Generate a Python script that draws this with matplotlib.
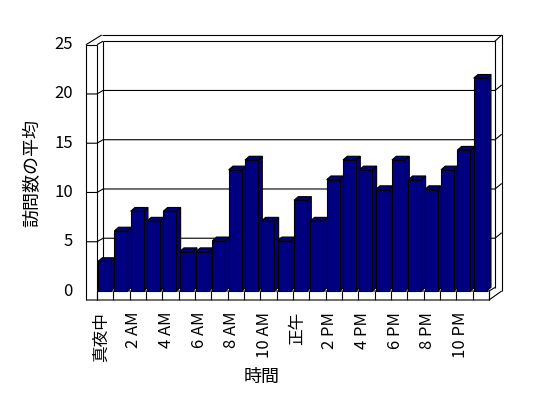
import matplotlib
matplotlib.use("Agg")
import matplotlib.pyplot as plt
from matplotlib.patches import Polygon

plt.rcParams["font.family"] = ["Noto Sans CJK JP", "DejaVu Sans"]

# average visits per hour (24 categories, midnight .. 11 PM)
avg_visits = [3.0, 6.1, 8.1, 7.1, 8.1, 4.0, 4.0, 5.1, 12.3, 13.3, 7.1, 5.1,
              9.2, 7.1, 11.3, 13.3, 12.3, 10.3, 13.3, 11.3, 10.3, 12.3, 14.3, 21.6]
hour_labels = ["真夜中", "2 AM", "4 AM", "6 AM", "8 AM", "10 AM",
               "正午", "2 PM", "4 PM", "6 PM", "8 PM", "10 PM"]
y_ticks = [0, 5, 10, 15, 20, 25]
x_title = "時間"
y_title = "訪問数の平均"

BAR_COLOR = "#000080"
LW = 0.8
W, H = 548, 398

# front plane of the plot area in pixels
left, right, top, bottom = 97, 489, 44.7, 291

fig = plt.figure(figsize=(W / 100, H / 100), dpi=100)
ax = fig.add_axes([left / W, 1 - bottom / H, (right - left) / W, (bottom - top) / H])
n = len(avg_visits)
ymax = y_ticks[-1]
ax.set_xlim(0, n)
ax.set_ylim(0, ymax)
ax.axis("off")

sx = n / (right - left)
sy = ymax / (bottom - top)


def px(dx, dy):
    # pixel offset (screen y pointing down) -> data offset
    return dx * sx, -dy * sy


def line(xs, ys, z=1):
    ax.plot(xs, ys, color="black", lw=LW, clip_on=False, zorder=z,
            solid_joinstyle="miter", solid_capstyle="butt")


wall_dx, _ = px(-11, 0)          # left wall thickness
_, floor_dy = px(0, 9)           # floor thickness (negative)
in_dx, in_dy = px(6, -3.5)       # back wall, front face
out_dx, out_dy = px(12.7, -9.7)  # back wall, back face
lo_dx, _ = px(4.7, 0)            # left wall top back corner
_, side_dy = px(0, -9)

# left wall
line([wall_dx, wall_dx, 0], [floor_dy, ymax, ymax])
line([0, 0], [floor_dy, ymax])
line([wall_dx, lo_dx], [ymax, ymax + out_dy])
line([0, in_dx], [ymax, ymax + in_dy])
line([in_dx, in_dx], [in_dy, ymax + in_dy])

# back wall
line([lo_dx, n + out_dx, n + out_dx], [ymax + out_dy, ymax + out_dy, 0])
line([in_dx, n + in_dx, n + in_dx], [ymax + in_dy, ymax + in_dy, in_dy])
line([n + in_dx, n + out_dx], [ymax + in_dy, ymax + out_dy])

# floor
line([wall_dx, n, n + out_dx], [floor_dy, floor_dy, 0])
line([n, n], [0, floor_dy])
line([0, n, n + in_dx], [0, 0, in_dy])
for i in range(n + 1):
    line([i, i], [0, floor_dy])

# gridlines on back wall and ticks on left wall
for v in y_ticks[1:-1]:
    line([wall_dx, 0, in_dx, n + in_dx, n + out_dx],
         [v, v, v + in_dy, v + in_dy, v + side_dy])

# bars
off, _ = px(1, 0)
bw, _ = px(13, 0)
ddx, ddy = px(4.3, -3.7)
for i, v in enumerate(avg_visits):
    x0 = i + off
    z = 3 + i
    front = [(x0, 0), (x0 + bw, 0), (x0 + bw, v), (x0, v)]
    side = [(x0 + bw, 0), (x0 + bw + ddx, ddy), (x0 + bw + ddx, v + ddy), (x0 + bw, v)]
    topf = [(x0, v), (x0 + bw, v), (x0 + bw + ddx, v + ddy), (x0 + ddx, v + ddy)]
    for pts in (side, topf, front):
        ax.add_patch(Polygon(pts, closed=True, facecolor=BAR_COLOR, edgecolor="black",
                             lw=LW, joinstyle="miter", clip_on=False, zorder=z))

# tick labels
lab_dx, _ = px(-4, 0)
_, lab_y = px(0, 21)
for k, lab in enumerate(hour_labels):
    ax.text(2 * k + 0.5 + lab_dx, lab_y, lab, rotation=90, ha="center", va="top",
            fontsize=12, color="black")

ytl_x, _ = px(-24, 0)
for v in y_ticks:
    ax.text(ytl_x, v, str(v), ha="right", va="center", fontsize=12, color="black")

fig.text(262 / W, 1 - 377 / H, x_title, ha="center", va="center", fontsize=13)
fig.text(32 / W, 1 - 173 / H, y_title, ha="center", va="center", rotation=90, fontsize=13)

fig.savefig("out.png", dpi=100, facecolor="white")
